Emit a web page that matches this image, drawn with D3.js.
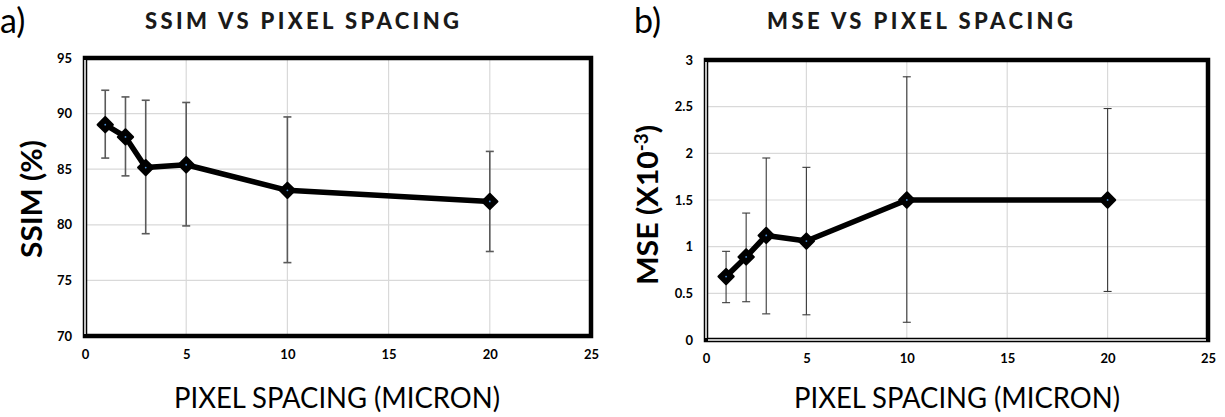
<!DOCTYPE html>
<html><head><meta charset="utf-8">
<script src="https://cdn.jsdelivr.net/npm/d3@7"></script>
<style>body{margin:0;background:#fff} svg{display:block}</style>
</head><body>
<svg id="c" width="1225" height="417"></svg>
<script>
const pixelSpacing = [1, 2, 3, 5, 10, 20];
const ssimMean  = [89.0, 87.9, 85.15, 85.4, 83.1, 82.1];
const ssimUpper = [92.1, 91.5, 91.2, 91.0, 89.7, 86.6];
const ssimLower = [86.0, 84.4, 79.2, 79.9, 76.6, 77.6];
const mseMean  = [0.68, 0.89, 1.12, 1.06, 1.50, 1.50];
const mseUpper = [0.95, 1.36, 1.95, 1.85, 2.82, 2.48];
const mseLower = [0.40, 0.41, 0.28, 0.27, 0.19, 0.52];
const xTicks = [0, 5, 10, 15, 20, 25];
const ssimTicks = [70, 75, 80, 85, 90, 95];
const mseTicks = [0, 0.5, 1, 1.5, 2, 2.5, 3];

const svg = d3.select("#c");
const FONT = "Lato, 'Open Sans', sans-serif";

const panels = [
  {letter:"a)", title:"SSIM VS PIXEL SPACING", mean:ssimMean, up:ssimUpper, lo:ssimLower,
   yTicks:ssimTicks, yDomain:[70,95], left:85, right:591, top:58, bottom:336,
   letterX:0, titleX:302, titleLen:314, xTitleX:337, ytitleX:42, ytitleY:199, ytitleLen:118,
   errW:1.6, errC:"#5a5a5a", doubleBottom:false},
  {letter:"b)", title:"MSE VS PIXEL SPACING", mean:mseMean, up:mseUpper, lo:mseLower,
   yTicks:mseTicks, yDomain:[0,3], left:706, right:1208, top:60, bottom:340,
   letterX:634, titleX:920, titleLen:306, xTitleX:957, ytitleX:658, ytitleY:205, ytitleLen:160,
   errW:1.1, errC:"#3a3a3a", doubleBottom:true}
];

panels.forEach((p, pi) => {
  const g = svg.append("g");
  const x = d3.scaleLinear().domain([0,25]).range([p.left, p.right]);
  const y = d3.scaleLinear().domain(p.yDomain).range([p.bottom, p.top]);

  // gridlines
  g.append("g").selectAll("line").data(p.yTicks).join("line")
    .attr("x1", p.left).attr("x2", p.right)
    .attr("y1", d => y(d)).attr("y2", d => y(d))
    .attr("stroke", "#d9d9d9").attr("stroke-width", 1.2);
  g.append("g").selectAll("line").data(xTicks).join("line")
    .attr("x1", d => x(d)).attr("x2", d => x(d))
    .attr("y1", p.top).attr("y2", p.bottom)
    .attr("stroke", "#d9d9d9").attr("stroke-width", 1.2);

  // axes labels via d3 axes
  const yAxis = d3.axisLeft(y).tickValues(p.yTicks).tickSize(0).tickPadding(13)
    .tickFormat(d => d3.format("")(d));
  const ya = g.append("g").attr("transform", `translate(${p.left},0)`).call(yAxis);
  ya.select(".domain").remove();
  ya.selectAll("text").attr("font-family", FONT).attr("font-weight", "bold")
    .attr("font-size", 13).attr("fill", "#000");

  const xAxis = d3.axisBottom(x).tickValues(xTicks).tickSize(0).tickPadding(14);
  const xa = g.append("g").attr("transform", `translate(0,${p.bottom})`).call(xAxis);
  xa.select(".domain").remove();
  xa.selectAll("text").attr("font-family", FONT).attr("font-weight", "bold")
    .attr("font-size", 13).attr("fill", "#000");

  // frame
  g.append("rect").attr("x", p.left).attr("y", p.top)
    .attr("width", p.right - p.left).attr("height", p.bottom - p.top)
    .attr("fill", "none").attr("stroke", "#000").attr("stroke-width", 4.5);
  // double line effect on left
  g.append("line").attr("x1", p.left).attr("x2", p.left)
    .attr("y1", p.top + 2).attr("y2", p.bottom - 2)
    .attr("stroke", "#fff").attr("stroke-width", 1.5);
  if (p.doubleBottom) {
    g.append("line").attr("x1", p.left + 2).attr("x2", p.right - 2)
      .attr("y1", p.bottom).attr("y2", p.bottom)
      .attr("stroke", "#fff").attr("stroke-width", 1.4);
  }

  // error bars
  const idx = d3.range(pixelSpacing.length);
  const eb = g.append("g").attr("stroke", p.errC).attr("stroke-width", p.errW);
  eb.selectAll("line.v").data(idx).join("line").attr("class","v")
    .attr("x1", i => x(pixelSpacing[i])).attr("x2", i => x(pixelSpacing[i]))
    .attr("y1", i => y(p.up[i])).attr("y2", i => y(p.lo[i]));
  eb.selectAll("line.t").data(idx).join("line").attr("class","t")
    .attr("x1", i => x(pixelSpacing[i]) - 4).attr("x2", i => x(pixelSpacing[i]) + 4)
    .attr("y1", i => y(p.up[i])).attr("y2", i => y(p.up[i]));
  eb.selectAll("line.b").data(idx).join("line").attr("class","b")
    .attr("x1", i => x(pixelSpacing[i]) - 4).attr("x2", i => x(pixelSpacing[i]) + 4)
    .attr("y1", i => y(p.lo[i])).attr("y2", i => y(p.lo[i]));

  // line
  const line = d3.line().x(i => x(pixelSpacing[i])).y(i => y(p.mean[i]));
  g.append("path").datum(idx).attr("d", line)
    .attr("fill", "none").attr("stroke", "#000").attr("stroke-width", 5.5)
    .attr("stroke-linejoin", "round");

  // markers
  const sym = d3.symbol().type(d3.symbolDiamond2).size(150);
  g.selectAll("path.m").data(idx).join("path").attr("class","m")
    .attr("transform", i => `translate(${x(pixelSpacing[i])},${y(p.mean[i])})`)
    .attr("d", sym).attr("fill", "#000").attr("stroke", "#000").attr("stroke-width", 2)
    .attr("stroke-linejoin", "round");
  g.selectAll("circle.c").data(idx).join("circle").attr("class","c")
    .attr("cx", i => x(pixelSpacing[i])).attr("cy", i => y(p.mean[i]))
    .attr("r", 0.9).attr("fill", "#4a8fd6");

  // panel letter
  g.append("text").attr("x", p.letterX).attr("y", 33)
    .attr("font-family", FONT).attr("font-size", 34).attr("fill", "#000")
    .text(p.letter);

  // title
  g.append("text").attr("x", p.titleX).attr("y", 29).attr("text-anchor", "middle")
    .attr("font-family", FONT).attr("font-weight", "900").attr("font-size", 22)
    .attr("fill", "#1a1a1a").attr("textLength", p.titleLen).attr("lengthAdjust", "spacing")
    .text(p.title);

  // x title
  g.append("text").attr("x", p.xTitleX).attr("y", 408).attr("text-anchor", "middle")
    .attr("font-family", FONT).attr("font-size", 28).attr("fill", "#000")
    .attr("textLength", 326).attr("lengthAdjust", "spacingAndGlyphs")
    .text("PIXEL SPACING (MICRON)");

  // y title
  const yt = g.append("text")
    .attr("transform", `translate(${p.ytitleX},${p.ytitleY}) rotate(-90)`)
    .attr("text-anchor", "middle")
    .attr("font-family", FONT).attr("font-weight", "bold").attr("font-size", 29)
    .attr("fill", "#000").attr("textLength", p.ytitleLen).attr("lengthAdjust", "spacingAndGlyphs");
  if (pi === 0) {
    yt.text("SSIM (%)");
  } else {
    yt.append("tspan").text("MSE (X10");
    yt.append("tspan").attr("dy", -10).attr("font-size", 18).text("-3");
    yt.append("tspan").attr("dy", 10).text(")");
  }
});
</script>
</body></html>
